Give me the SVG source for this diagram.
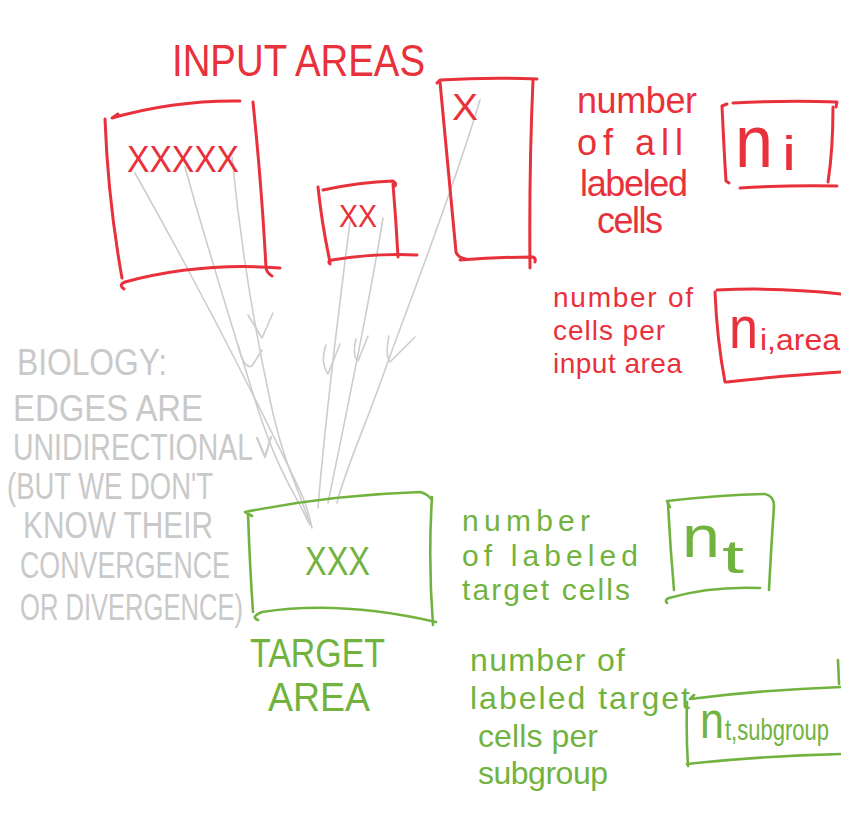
<svg xmlns="http://www.w3.org/2000/svg" width="841" height="839" viewBox="0 0 841 839">
<style>
.r{fill:none;stroke:#e8313b;stroke-width:3;stroke-linecap:round;stroke-linejoin:round}
.g{fill:none;stroke:#72b340;stroke-width:2.6;stroke-linecap:round;stroke-linejoin:round}
.c{fill:none;stroke:#cdcdcd;stroke-width:1.6;stroke-linecap:round;stroke-linejoin:round}
.tr{fill:#e8313b;font-family:"Liberation Sans",Arial,sans-serif}
.tg{fill:#72b340;font-family:"Liberation Sans",Arial,sans-serif}
.tc{fill:#c9c9c9;font-family:"Liberation Sans",Arial,sans-serif;font-size:29px}
</style>
<rect width="841" height="839" fill="#ffffff"/>

<g id="connectors">
<path class="c" d="M135,173 C185,262 232,352 268,425 S306,500 312,528"/>
<path class="c" d="M185,167 C205,240 230,320 255,400 S300,500 308,522"/>
<path class="c" d="M232,157 C240,240 255,330 270,400 S300,490 310,525"/>
<path class="c" d="M350,222 C340,300 325,420 318,508"/>
<path class="c" d="M383,218 C370,300 345,420 328,503"/>
<path class="c" d="M480,100 C450,200 410,300 385,370 S345,470 337,503"/>
<path class="c" d="M238,345 Q244,370 252,366 L262,350"/>
<path class="c" d="M248,315 L262,338 L273,313"/>
<path class="c" d="M326,345 Q320,362 328,374 L340,344"/>
<path class="c" d="M356,339 Q352,356 358,361 L368,336"/>
<path class="c" d="M389,336 Q385,355 390,362 L415,337"/>
</g>

<g id="title-input-areas">
<text class="tr" x="172" y="76" font-size="44" textLength="253" lengthAdjust="spacingAndGlyphs">INPUT AREAS</text>
</g>

<g id="input-area-1">
<path class="r" d="M118,114 L112,118 Q175,100 240,101"/>
<path class="r" d="M105,119 Q108,200 122,278"/>
<path class="r" d="M253,102 Q262,190 266,268 Q267,273 272,276"/>
<path class="r" d="M124,289 Q118,285 125,282 Q200,262 280,268"/>
<text class="tr" x="127" y="172" font-size="36" textLength="112" lengthAdjust="spacingAndGlyphs">XXXXX</text>
</g>

<g id="input-area-2">
<path class="r" d="M323,190 Q360,182 393,181 Q397,183 395,186"/>
<path class="r" d="M318,187 Q322,225 330,262"/>
<path class="r" d="M393,184 Q396,220 398,257"/>
<path class="r" d="M330,264 Q327,261 332,260 Q375,253 417,255"/>
<text class="tr" x="339" y="227" font-size="32" textLength="38" lengthAdjust="spacingAndGlyphs">XX</text>
</g>

<g id="input-area-3">
<path class="r" d="M437,83 L440,80 Q490,77 537,79"/>
<path class="r" d="M440,82 Q448,170 456,252 Q458,258 466,259"/>
<path class="r" d="M533,80 Q529,170 530,268"/>
<path class="r" d="M460,260 Q500,257 533,257 Q536,258 535,262"/>
<text class="tr" x="452" y="120" font-size="36" textLength="26" lengthAdjust="spacingAndGlyphs">X</text>
</g>

<g id="label-ni">
<text class="tr" font-size="36" lengthAdjust="spacingAndGlyphs">
<tspan x="577" y="113" textLength="120">number</tspan>
<tspan x="577" y="155" textLength="106">of all</tspan>
<tspan x="580" y="196" textLength="108">labeled</tspan>
<tspan x="597" y="233" textLength="66">cells</tspan>
</text>
</g>

<g id="box-ni">
<path class="r" d="M733,103 Q790,100 837,102 L836,107"/>
<path class="r" d="M727,104 L722,106 Q724,150 726,181 L729,183"/>
<path class="r" d="M833,107 Q833,150 828,182"/>
<path class="r" d="M740,188 Q790,185 837,186"/>
<text class="tr" x="735" y="167" font-size="74" textLength="38" lengthAdjust="spacingAndGlyphs">n</text>
<text class="tr" x="782" y="170" font-size="48" textLength="14" lengthAdjust="spacingAndGlyphs">i</text>
</g>

<g id="label-ni-area">
<text class="tr" font-size="28" lengthAdjust="spacingAndGlyphs">
<tspan x="553" y="307" textLength="140">number of</tspan>
<tspan x="553" y="340" textLength="112">cells per</tspan>
<tspan x="553" y="373" textLength="129">input area</tspan>
</text>
</g>

<g id="box-ni-area">
<path class="r" d="M717,290 Q780,287 841,294"/>
<path class="r" d="M715,292 Q717,340 725,382"/>
<path class="r" d="M727,382 Q790,375 841,372"/>
<text class="tr" x="729" y="348" font-size="60" textLength="29" lengthAdjust="spacingAndGlyphs">n</text>
<text class="tr" x="760" y="350" font-size="30" textLength="80" lengthAdjust="spacingAndGlyphs">i,area</text>
</g>

<g id="biology-note">
<text class="tc" transform="translate(17,375) scale(1,1.25)" textLength="150" lengthAdjust="spacingAndGlyphs">BIOLOGY:</text>
<text class="tc" transform="translate(13,421) scale(1,1.25)" textLength="190" lengthAdjust="spacingAndGlyphs">EDGES ARE</text>
<text class="tc" transform="translate(13,460) scale(1,1.25)" textLength="240" lengthAdjust="spacingAndGlyphs">UNIDIRECTIONAL</text>
<text class="tc" transform="translate(7,499) scale(1,1.25)" textLength="206" lengthAdjust="spacingAndGlyphs">(BUT WE DON'T</text>
<text class="tc" transform="translate(23,538) scale(1,1.25)" textLength="190" lengthAdjust="spacingAndGlyphs">KNOW THEIR</text>
<text class="tc" transform="translate(20,578) scale(1,1.25)" textLength="210" lengthAdjust="spacingAndGlyphs">CONVERGENCE</text>
<text class="tc" transform="translate(20,620) scale(1,1.25)" textLength="223" lengthAdjust="spacingAndGlyphs">OR DIVERGENCE)</text>
<path class="c" d="M257,438 L265,457 L271,437" style="stroke-width:2.2"/>
</g>

<g id="target-area">
<path class="g" d="M252,516 L245,512 Q330,495 420,492 Q428,494 432,500"/>
<path class="g" d="M248,514 Q250,570 253,612"/>
<path class="g" d="M432,497 Q428,560 433,625"/>
<path class="g" d="M258,620 Q250,617 262,612 Q340,600 436,622"/>
<text class="tg" x="305" y="575" font-size="40" textLength="65" lengthAdjust="spacingAndGlyphs">XXX</text>
<text class="tg" x="250" y="667" font-size="40" textLength="135" lengthAdjust="spacingAndGlyphs">TARGET</text>
<text class="tg" x="268" y="711" font-size="40" textLength="102" lengthAdjust="spacingAndGlyphs">AREA</text>
</g>

<g id="label-nt">
<text class="tg" font-size="30" lengthAdjust="spacingAndGlyphs">
<tspan x="462" y="531" textLength="128">number</tspan>
<tspan x="462" y="566" textLength="176">of labeled</tspan>
<tspan x="462" y="600" textLength="168">target cells</tspan>
</text>
</g>

<g id="box-nt">
<path class="g" d="M670,507 L667,501 Q720,495 765,494 Q774,496 774,506"/>
<path class="g" d="M668,503 Q670,545 674,590"/>
<path class="g" d="M774,506 Q771,550 769,590"/>
<path class="g" d="M667,603 Q664,600 669,598 Q710,586 760,588"/>
<text class="tg" x="682" y="557" font-size="60" textLength="38" lengthAdjust="spacingAndGlyphs">n</text>
<text class="tg" x="722" y="573" font-size="46" textLength="22" lengthAdjust="spacingAndGlyphs">t</text>
</g>

<g id="label-nt-subgroup">
<text class="tg" font-size="32" lengthAdjust="spacingAndGlyphs">
<tspan x="470" y="671" textLength="155">number of</tspan>
<tspan x="470" y="709" textLength="220">labeled target</tspan>
<tspan x="478" y="747" textLength="120">cells per</tspan>
<tspan x="478" y="784" textLength="130">subgroup</tspan>
</text>
</g>

<g id="box-nt-subgroup">
<path class="g" d="M694,695 L690,699 Q760,690 841,687"/>
<path class="g" d="M687,702 Q686,735 688,766"/>
<path class="g" d="M687,764 Q760,756 841,754"/>
<path class="g" d="M838,660 L839,684"/>
<text class="tg" x="700" y="738" font-size="52" textLength="24" lengthAdjust="spacingAndGlyphs">n</text>
<text class="tg" transform="translate(725,740) scale(1,1.3)" font-size="22" textLength="104" lengthAdjust="spacingAndGlyphs">t,subgroup</text>
</g>
</svg>
